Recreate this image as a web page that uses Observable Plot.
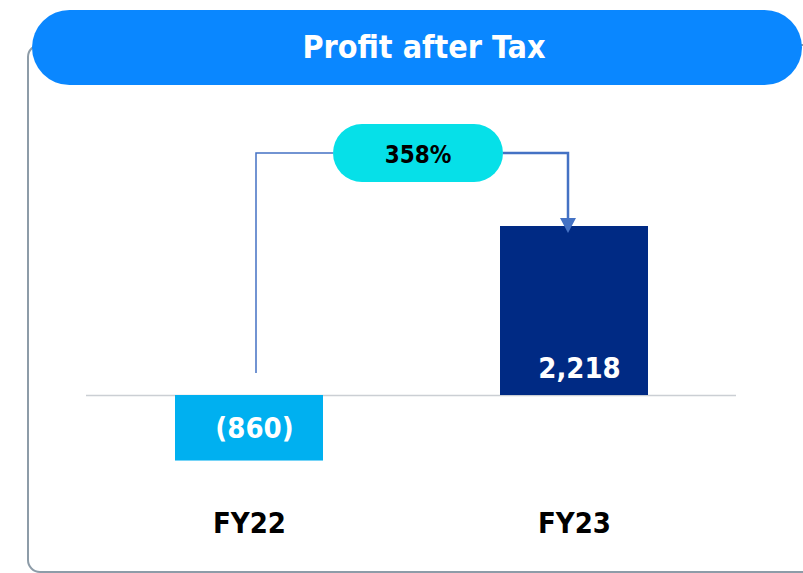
<!DOCTYPE html>
<html><head><meta charset="utf-8">
<script src="https://cdn.jsdelivr.net/npm/d3@7"></script>
<script src="https://cdn.jsdelivr.net/npm/@observablehq/plot@0.6"></script>
<style>
html,body{margin:0;padding:0;background:#fff;}
#wrap{position:relative;width:803px;height:573px;overflow:hidden;font-family:"DejaVu Sans Condensed","DejaVu Sans",sans-serif;}
#frame{position:absolute;left:27px;top:44px;width:830px;height:529px;border:2px solid #8D9CA8;border-radius:13px;box-sizing:border-box;}
#header{position:absolute;left:32px;top:10px;width:770px;height:75px;border-radius:38px;background:#0A87FF;color:#fff;font-weight:bold;font-size:32px;line-height:75px;text-align:center;padding-left:14px;box-sizing:border-box;}
#chart{position:absolute;left:0;top:0;}
</style></head><body>
<div id="wrap"><div id="frame"></div><div id="chart"></div><div id="header">Profit after Tax</div></div>
<script>
const categories = ["FY22", "FY23"];
const profitAfterTax = [-860, 2218];
const barColors = ["#00B0F0", "#002A84"];

const data = categories.map((c, i) => ({year: c, value: profitAfterTax[i]}));
const growth = (profitAfterTax[1] - profitAfterTax[0]) / Math.abs(profitAfterTax[0]);
const growthLabel = Math.round(growth * 100) + "%";
const fmt = v => v < 0 ? "(" + d3.format(",")(-v) + ")" : d3.format(",")(v);
const FONT = "'DejaVu Sans Condensed', 'DejaVu Sans', sans-serif";

const chart = Plot.plot({
  width: 803, height: 573,
  marginTop: 0, marginBottom: 0, marginLeft: 86, marginRight: 67,
  style: {background: "transparent", fontFamily: FONT, overflow: "visible"},
  x: {domain: categories, paddingInner: 0.545, paddingOuter: 0.2725, axis: null},
  y: {domain: [-2336, 5184], axis: null},
  color: {domain: categories, range: barColors},
  marks: [
    Plot.ruleY([0], {stroke: "#CBCFD4", strokeWidth: 1.5}),
    Plot.barY(data, {x: "year", y: "value", fill: "year"}),
    Plot.text(data.filter(d => d.value < 0), {x: "year", y: 0, text: d => fmt(d.value), dx: 5, dy: 33, fill: "white", fontSize: 29, fontWeight: "bold", fontFamily: FONT}),
    Plot.text(data.filter(d => d.value >= 0), {x: "year", y: 0, text: d => fmt(d.value), dx: 5, dy: -27, fill: "white", fontSize: 29, fontWeight: "bold", fontFamily: FONT}),
    Plot.text(categories, {x: d => d, frameAnchor: "bottom", dy: -41, text: d => d, fill: "black", fontSize: 29, fontWeight: "bold", fontFamily: FONT})
  ]
});
document.getElementById("chart").appendChild(chart);

// growth connector drawn with the plot's own scales
const sx = chart.scale("x"), sy = chart.scale("y");
const cx = c => sx.apply(c) + sx.bandwidth / 2;
const xL = cx("FY22") + 7, xR = cx("FY23") - 6;
const yTop = sy.apply(profitAfterTax[1]) - 73;
const yStart = sy.apply(0) - 22;
const tip = sy.apply(profitAfterTax[1]) + 7;
const pillCx = (xL + xR) / 2 + 6, pillW = 170, pillH = 58;
const svg = d3.select(chart);
const g = svg.append("g");
g.append("path").attr("d", `M${xL},${yStart}V${yTop}H${pillCx - pillW/2}`)
  .attr("fill", "none").attr("stroke", "#4472C4").attr("stroke-width", 1.5);
g.append("path").attr("d", `M${pillCx + pillW/2},${yTop}H${xR}V${tip - 14}`)
  .attr("fill", "none").attr("stroke", "#4472C4").attr("stroke-width", 2.5);
g.append("path").attr("d", `M${xR - 8},${tip - 15}L${xR + 8},${tip - 15}L${xR},${tip}Z`).attr("fill", "#4472C4");
g.append("rect").attr("x", pillCx - pillW/2).attr("y", yTop - pillH/2).attr("width", pillW).attr("height", pillH)
  .attr("rx", pillH/2).attr("fill", "#06E0E8");
g.append("text").attr("x", pillCx).attr("y", yTop + 10).attr("text-anchor", "middle")
  .attr("font-size", 24).attr("font-weight", "bold").attr("font-family", FONT).attr("fill", "black").text(growthLabel);
</script>
</body></html>
